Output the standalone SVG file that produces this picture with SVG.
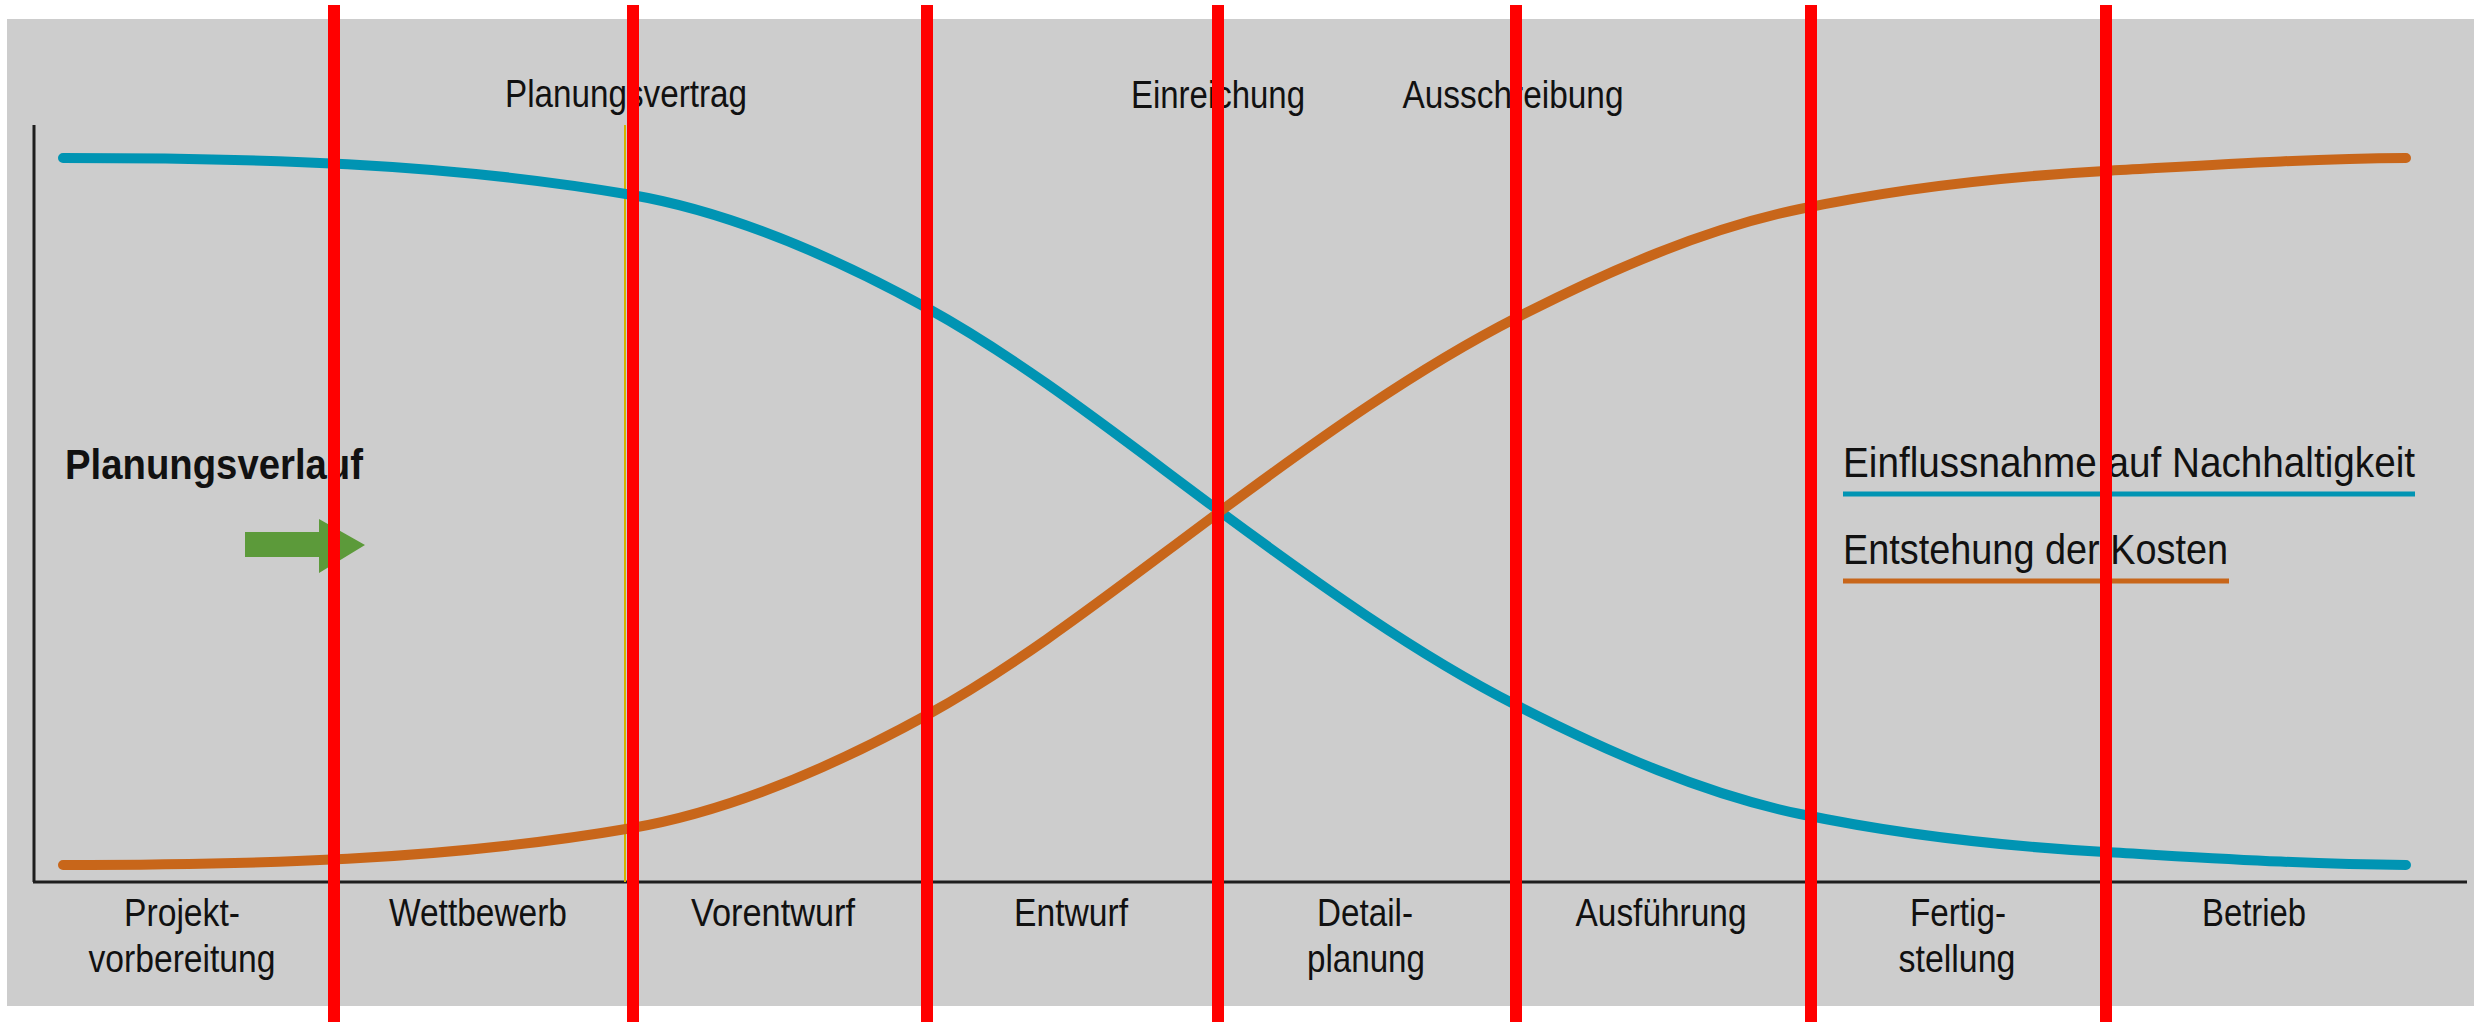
<svg xmlns="http://www.w3.org/2000/svg" width="2474" height="1022" viewBox="0 0 2474 1022">
  <style>
    .lbl { font-family: 'Liberation Sans Narrow', 'Arial Narrow', 'Liberation Sans', Arial, sans-serif; fill: #111; }
    .top { font-size: 38px; text-anchor: middle; }
    .phase { font-size: 39px; text-anchor: middle; }
    .leg { font-size: 43px; }
    .bold { font-size: 43px; font-weight: bold; }
    .curve { fill: none; stroke-width: 10; stroke-linecap: round; stroke-linejoin: round; }
    .blue { stroke: #0094B3; }
    .orange { stroke: #C8661A; }
    .axis { stroke: #1E1E1E; stroke-width: 3; fill: none; }
    .red { stroke: #FF0000; stroke-width: 12; }
  </style>
  <rect id="background" x="7" y="19" width="2467" height="987" fill="#CDCDCD"/>

  <g id="axes">
    <line class="axis" x1="34" y1="125" x2="34" y2="882"/>
    <line class="axis" x1="33" y1="882" x2="2467" y2="882"/>
    <line x1="625" y1="125" x2="625" y2="882" stroke="#D2B400" stroke-width="2"/>
  </g>

  <g id="connectors">
    <path id="curve-influence" class="curve blue" d="M63,158 C252.7,158 442.3,162.2 632,195 C730.3,212 828.7,254 927,308 C1024,361.3 1121,438.2 1218,510 C1317.3,583.5 1416.7,654.3 1516,705 C1610.7,753.4 1705.3,794.3 1800,814 C1901.7,835.2 2003.3,846.3 2105,852 C2205.3,857.6 2305.7,864.5 2406,865"/>
    <path id="curve-costs" class="curve orange" d="M63,865 C252.7,865 442.3,860.8 632,828 C730.3,811 828.7,769 927,715 C1024,661.7 1121,584.8 1218,513 C1317.3,439.5 1416.7,368.7 1516,318 C1610.7,269.6 1705.3,228.7 1800,209 C1901.7,187.8 2003.3,176.7 2105,171 C2205.3,165.4 2305.7,158.5 2406,158"/>
  </g>

  <g id="milestones">
    <text class="lbl top" x="626" y="107" textLength="242" lengthAdjust="spacingAndGlyphs">Planungsvertrag</text>
    <text class="lbl top" x="1218" y="108" textLength="174" lengthAdjust="spacingAndGlyphs">Einreichung</text>
    <text class="lbl top" x="1513" y="108" textLength="221" lengthAdjust="spacingAndGlyphs">Ausschreibung</text>
  </g>

  <g id="planungsverlauf">
    <text class="lbl bold" x="65" y="479" textLength="298" lengthAdjust="spacingAndGlyphs">Planungsverlauf</text>
    <polygon points="245,532 319,532 319,519 365,545 319,573 319,557 245,557" fill="#5C9A3A"/>
  </g>

  <g id="legend">
    <text class="lbl leg" x="1843" y="477" textLength="572" lengthAdjust="spacingAndGlyphs">Einflussnahme auf Nachhaltigkeit</text>
    <line x1="1843" y1="494" x2="2415" y2="494" stroke="#0094B3" stroke-width="5"/>
    <text class="lbl leg" x="1843" y="564" textLength="385" lengthAdjust="spacingAndGlyphs">Entstehung der Kosten</text>
    <line x1="1843" y1="581" x2="2229" y2="581" stroke="#C8661A" stroke-width="5"/>
  </g>

  <g id="phases">
    <text class="lbl phase" x="182" y="926" textLength="116" lengthAdjust="spacingAndGlyphs">Projekt-</text>
    <text class="lbl phase" x="182" y="972" textLength="187" lengthAdjust="spacingAndGlyphs">vorbereitung</text>
    <text class="lbl phase" x="478" y="926" textLength="178" lengthAdjust="spacingAndGlyphs">Wettbewerb</text>
    <text class="lbl phase" x="773" y="926" textLength="164" lengthAdjust="spacingAndGlyphs">Vorentwurf</text>
    <text class="lbl phase" x="1071" y="926" textLength="114" lengthAdjust="spacingAndGlyphs">Entwurf</text>
    <text class="lbl phase" x="1365" y="926" textLength="96" lengthAdjust="spacingAndGlyphs">Detail-</text>
    <text class="lbl phase" x="1366" y="972" textLength="118" lengthAdjust="spacingAndGlyphs">planung</text>
    <text class="lbl phase" x="1661" y="926" textLength="171" lengthAdjust="spacingAndGlyphs">Ausführung</text>
    <text class="lbl phase" x="1958" y="926" textLength="96" lengthAdjust="spacingAndGlyphs">Fertig-</text>
    <text class="lbl phase" x="1957" y="972" textLength="117" lengthAdjust="spacingAndGlyphs">stellung</text>
    <text class="lbl phase" x="2254" y="926" textLength="104" lengthAdjust="spacingAndGlyphs">Betrieb</text>
  </g>

  <g id="dividers">
    <line class="red" x1="334" y1="5" x2="334" y2="1022"/>
    <line class="red" x1="633" y1="5" x2="633" y2="1022"/>
    <line class="red" x1="927" y1="5" x2="927" y2="1022"/>
    <line class="red" x1="1218" y1="5" x2="1218" y2="1022"/>
    <line class="red" x1="1516" y1="5" x2="1516" y2="1022"/>
    <line class="red" x1="1811" y1="5" x2="1811" y2="1022"/>
    <line class="red" x1="2106" y1="5" x2="2106" y2="1022"/>
  </g>
</svg>
